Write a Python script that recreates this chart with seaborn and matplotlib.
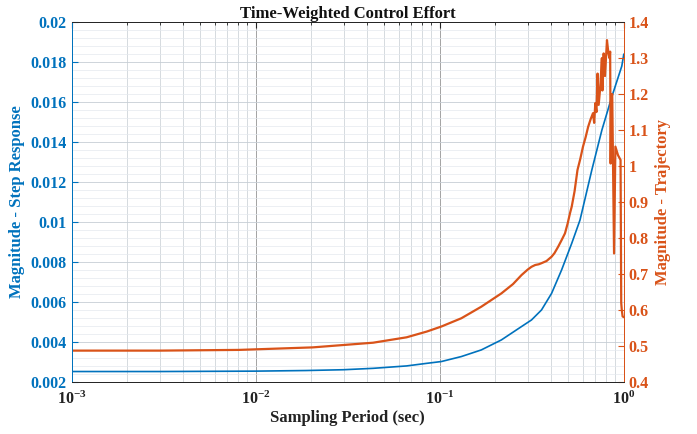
import numpy as np
import pandas as pd
import matplotlib
matplotlib.use("Agg")
import matplotlib.pyplot as plt
import seaborn as sns
from matplotlib.ticker import LogLocator, MultipleLocator, NullFormatter

# ---- data ----
step_x = [0.001, 0.003, 0.01, 0.0187, 0.03, 0.0434, 0.066, 0.085, 0.102, 0.131,
          0.168, 0.216, 0.278, 0.315, 0.357, 0.405, 0.459, 0.521, 0.578, 0.67,
          0.76, 0.861, 0.975, 1.0]
step_y = [0.00252, 0.00252, 0.00254, 0.00257, 0.00261, 0.00268, 0.0028, 0.00293,
          0.00302, 0.00327, 0.0036, 0.0041, 0.00477, 0.0051, 0.0056, 0.00643,
          0.0076, 0.00893, 0.0101, 0.0126, 0.0146, 0.01627, 0.0178, 0.0184]

traj_x = [0.001, 0.003, 0.0081, 0.0204, 0.0434, 0.066, 0.085, 0.102, 0.131, 0.168,
          0.216, 0.25, 0.278, 0.30, 0.315, 0.33, 0.345, 0.357, 0.38, 0.405, 0.42,
          0.44, 0.46, 0.479, 0.495, 0.51, 0.521, 0.54, 0.56, 0.58, 0.60, 0.62,
          0.64, 0.66, 0.68, 0.69, 0.70, 0.71, 0.72, 0.73, 0.745, 0.76, 0.765,
          0.777, 0.79, 0.81, 0.825, 0.835, 0.843, 0.848, 0.855, 0.865, 0.885,
          0.90, 0.93, 0.96, 0.968, 0.975, 0.985, 1.0]
traj_y = [0.487, 0.487, 0.489, 0.496, 0.509, 0.524, 0.540, 0.554, 0.577, 0.609,
          0.646, 0.672, 0.697, 0.712, 0.720, 0.725, 0.727, 0.730, 0.736, 0.748, 0.758,
          0.776, 0.795, 0.813, 0.840, 0.869, 0.887, 0.930, 0.989, 1.020, 1.054, 1.080,
          1.109, 1.130, 1.147, 1.120, 1.175, 1.150, 1.257, 1.170, 1.220, 1.300, 1.210,
          1.313, 1.250, 1.350, 1.313, 1.300, 1.318, 1.007, 1.190, 1.200, 0.757,
          1.054, 1.030, 1.017, 0.620, 0.600, 0.582, 0.580]

title = "Time-Weighted Control Effort"
xlabel = "Sampling Period (sec)"
ylabel_left = "Magnitude - Step Response"
ylabel_right = "Magnitude - Trajectory"

BLUE = "#0072BD"
ORANGE = "#D95319"

sns.set_style("white")
plt.rcParams["font.family"] = ["Liberation Serif", "DejaVu Serif"]
plt.rcParams["font.weight"] = "bold"
plt.rcParams["mathtext.fontset"] = "custom"
plt.rcParams["mathtext.rm"] = "Liberation Serif:bold"
plt.rcParams["mathtext.it"] = "Liberation Serif:bold"
plt.rcParams["mathtext.bf"] = "Liberation Serif:bold"

df_step = pd.DataFrame({"x": step_x, "y": step_y})
df_traj = pd.DataFrame({"x": traj_x, "y": traj_y})

fig = plt.figure(figsize=(6.97, 4.34), dpi=100)
ax = fig.add_axes([0.103, 0.12, 0.792, 0.829])
ax2 = ax.twinx()

sns.lineplot(data=df_step, x="x", y="y", ax=ax, color=BLUE, linewidth=1.2,
             estimator=None, sort=False)
sns.lineplot(data=df_traj, x="x", y="y", ax=ax2, color=ORANGE, linewidth=1.6,
             estimator=None, sort=False)

ax.set_xscale("log")
ax.set_xlim(1e-3, 1)
ax.set_ylim(0.002, 0.02)
ax2.set_ylim(0.4, 1.4)

ax.yaxis.set_major_locator(MultipleLocator(0.002))
ax.yaxis.set_minor_locator(MultipleLocator(0.0004))
ax2.yaxis.set_major_locator(MultipleLocator(0.1))
ax.xaxis.set_major_locator(LogLocator(base=10, numticks=10))
ax.xaxis.set_minor_locator(LogLocator(base=10, subs=np.arange(2, 10), numticks=20))
ax.xaxis.set_minor_formatter(NullFormatter())

ax.set_yticklabels([f"{v:g}" for v in ax.get_yticks()])
ax2.set_yticklabels([f"{v:g}" for v in ax2.get_yticks()])

ax.grid(True, which="major", axis="x", color="#a3a3a3", linewidth=0.7)
ax.grid(True, which="major", axis="y", color="#c6cdd4", linewidth=0.6)
ax.grid(True, which="minor", axis="x", color="#cfd4d9", linewidth=0.6)
ax.grid(True, which="minor", axis="y", color="#e4e9ee", linewidth=0.5)
ax.set_axisbelow(True)

for a in (ax, ax2):
    for s in a.spines.values():
        s.set_linewidth(0.7)
ax.spines["left"].set_color(BLUE)
ax2.spines["left"].set_color(BLUE)
ax.spines["right"].set_color(ORANGE)
ax2.spines["right"].set_color(ORANGE)
ax.spines["top"].set_color("#333333")
ax.spines["bottom"].set_color("#333333")

ax.tick_params(axis="x", which="both", direction="in", top=True, labelsize=11.5,
               colors="#222222", length=4, pad=6)
ax.tick_params(axis="x", which="minor", length=2)
ax.tick_params(axis="y", which="major", direction="in", colors=BLUE, labelsize=11.5, length=4)
ax.tick_params(axis="y", which="minor", left=False)
ax2.tick_params(axis="y", which="major", direction="in", colors=ORANGE, labelsize=11.5, length=4)

ax.set_xlabel(xlabel, fontsize=12, fontweight="bold", color="#222222", labelpad=2)
ax.set_ylabel(ylabel_left, fontsize=12, fontweight="bold", color=BLUE, labelpad=4)
ax2.set_ylabel(ylabel_right, fontsize=12, fontweight="bold", color=ORANGE, labelpad=4)
ax.set_title(title, fontsize=12, fontweight="bold", color="#111111", pad=3)

fig.savefig("out.png", dpi=100)
